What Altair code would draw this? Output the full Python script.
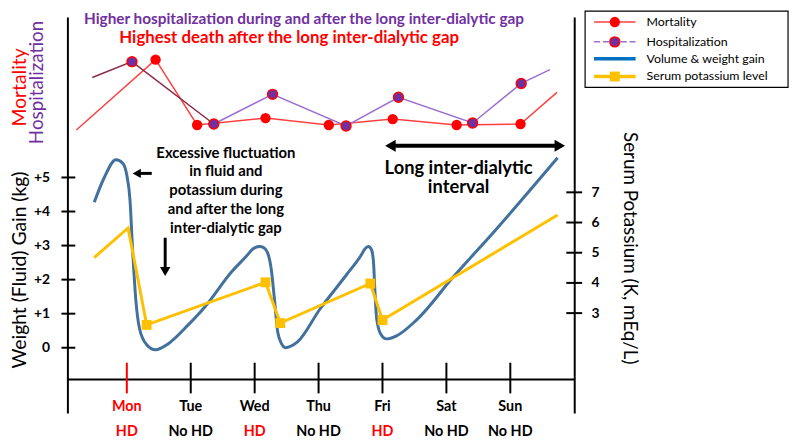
import altair as alt
import pandas as pd

# ---------------- data ----------------
day_index = [1, 2, 3, 4, 5, 6, 7]
day_names = ["Mon", "Tue", "Wed", "Thu", "Fri", "Sat", "Sun"]
dialysis = ["HD", "No HD", "HD", "No HD", "HD", "No HD", "No HD"]

# volume & weight gain curve (day, kg)
weight_day = [0.49, 0.64, 0.83, 0.94, 1.00, 1.05, 1.09, 1.14, 1.20, 1.31,
              1.45, 1.65, 1.96, 2.23, 2.63, 2.89, 2.97, 3.08, 3.14, 3.20,
              3.26, 3.31, 3.36, 3.42, 3.48, 3.67, 4.02, 4.44, 4.67, 4.72,
              4.78, 4.83, 4.86, 4.88, 4.91, 4.97, 5.06, 5.22, 5.53, 6.10,
              6.77, 7.74]
weight_kg = [4.27, 4.97, 5.52, 5.41, 5.06, 4.33, 2.88, 1.42, 0.55, 0.09,
             -0.06, 0.12, 0.67, 1.22, 2.21, 2.73, 2.90, 2.97, 2.94, 2.80,
             2.30, 1.42, 0.47, 0.12, 0.00, 0.17, 1.13, 2.15, 2.73, 2.89,
             2.97, 2.87, 2.50, 1.72, 0.84, 0.41, 0.26, 0.35, 0.81, 2.06,
             3.46, 5.58]

# serum potassium (day, mEq/L)
k_day = [0.49, 1.02, 1.31, 3.17, 3.40, 4.81, 5.00, 7.74]
k_level = [4.84, 5.82, 2.61, 4.02, 2.67, 3.98, 2.77, 6.25]
k_marker = [False, False, True, True, True, True, True, False]

# mortality / hospitalization (relative index, no axis)
mort_day = [0.21, 1.45, 2.10, 3.17, 4.16, 5.16, 6.16, 7.16, 7.73]
mort_index = [0.6, 7.7, 1.1, 1.8, 1.1, 1.7, 1.1, 1.2, 4.4]
hosp_day = [0.46, 1.08, 2.36, 3.28, 4.43, 5.25, 6.41, 7.17, 7.62]
hosp_index = [5.9, 7.5, 1.2, 4.2, 1.0, 3.9, 1.3, 5.3, 6.7]

kg_ticks = [0, 1, 2, 3, 4, 5]
k_ticks = [3, 4, 5, 6, 7]

note_fluct = ["Excessive fluctuation", "in fluid and", "potassium during",
              "and after the long", "inter-dialytic gap"]
note_long = ["Long inter-dialytic", "interval"]
title_hosp = "Higher hospitalization during and after the long inter-dialytic gap"
title_death = "Highest death after the long inter-dialytic gap"
legend_labels = ["Mortality", "Hospitalization", "Volume & weight gain",
                 "Serum potassium  level"]

# ---------------- tables ----------------
weight_df = pd.DataFrame({"day": weight_day, "kg": weight_kg})
k_df = pd.DataFrame({"day": k_day, "k": k_level, "marker": k_marker})
mort_df = pd.DataFrame({"day": mort_day, "idx": mort_index})
hosp_df = pd.DataFrame({"day": hosp_day, "idx": hosp_index})
days_df = pd.DataFrame({"day": day_index, "name": day_names, "hd": dialysis})
kg_tick_df = pd.DataFrame({"kg": kg_ticks})
k_tick_df = pd.DataFrame({"k": k_ticks})
one = pd.DataFrame({"_": [0]})

FONT = "Lato"
W, H = 512, 400
RED = "#FF0000"
PURPLE = "#7030A0"
LAVENDER = "#9B6FD0"
BLUE = "#41719C"
GOLD = "#FFC000"

xs = alt.Scale(domain=[0.07, 8.0], nice=False, zero=False)
kg_s = alt.Scale(domain=[-1.919, 9.709], nice=False, zero=False)
k_s = alt.Scale(domain=[-0.311, 12.803], nice=False, zero=False)
ix_s = alt.Scale(domain=[-28, 12], nice=False, zero=False)

left_axis = alt.Axis(
    orient="left", values=kg_ticks, ticks=False, grid=False,
    domainColor="black", domainWidth=2,
    labelFont=FONT, labelFontSize=14, labelFontWeight="bold", labelColor="black",
    labelPadding=18, labelExpr="datum.value > 0 ? '+' + datum.label : datum.label",
    title="Weight (Fluid) Gain (kg)", titleFont=FONT, titleFontSize=19.5,
    titleFontWeight="normal", titleColor="black", titleAngle=270,
    titleX=-48, titleY=255, titleAlign="center", titleBaseline="middle")

right_axis = alt.Axis(
    orient="right", values=k_ticks, ticks=False, grid=False,
    domainColor="black", domainWidth=2,
    labelFont=FONT, labelFontSize=14, labelFontWeight="bold", labelColor="black",
    labelPadding=17,
    title="Serum Potassium (K, mEq/L)", titleFont=FONT, titleFontSize=19,
    titleFontWeight="normal", titleColor="black", titleAngle=90,
    titleX=56, titleY=233, titleAlign="center", titleBaseline="middle")


def X(field):
    return alt.X(field, type="quantitative", scale=xs, axis=None)


def Xd(v):
    return alt.X(datum=v, type="quantitative", scale=xs, axis=None)


def KG(field):
    return alt.Y(field, type="quantitative", scale=kg_s, axis=left_axis)


def KGd(v):
    return alt.Y(datum=v, type="quantitative", scale=kg_s, axis=left_axis)


def KK(field):
    return alt.Y(field, type="quantitative", scale=k_s, axis=right_axis)


def IX(field):
    return alt.Y(field, type="quantitative", scale=ix_s, axis=None)


# ---------------- kg group ----------------
blue = alt.Chart(weight_df).mark_line(
    interpolate="monotone", color=BLUE, strokeWidth=3
).encode(x=X("day"), y=KG("kg"))

left_ticks = alt.Chart(kg_tick_df).mark_rule(color="black", strokeWidth=2).encode(
    y=KG("kg"), x=alt.value(-6), x2=alt.value(8))

base_line = alt.Chart(one).mark_rule(color="black", strokeWidth=2).encode(y=KGd(-0.93))

mon_red = alt.condition("datum.name == 'Mon'", alt.value(RED), alt.value("black"))
hd_red = alt.condition("datum.hd == 'HD'", alt.value(RED), alt.value("black"))

day_ticks = alt.Chart(days_df).mark_rule(strokeWidth=2).encode(
    x=X("day"), y=KGd(-0.44), y2=alt.Y2(datum=-1.34), color=mon_red)

day_text = alt.Chart(days_df).mark_text(
    font=FONT, fontSize=14.5, fontWeight="bold", baseline="middle"
).encode(x=X("day"), y=KGd(-1.74), text="name:N", color=mon_red)

hd_text = alt.Chart(days_df).mark_text(
    font=FONT, fontSize=14.5, fontWeight="bold", baseline="middle"
).encode(x=X("day"), y=KGd(-2.47), text="hd:N", color=hd_red)

# first line of each note is placed at the given point
fluct_text = alt.Chart(one).mark_text(
    text=note_fluct, font=FONT, fontSize=15, fontWeight="bold", lineHeight=19,
    align="center", baseline="middle", color="black"
).encode(x=Xd(2.55), y=KGd(5.73))

long_text = alt.Chart(one).mark_text(
    text=note_long, font=FONT, fontSize=18.5, fontWeight="bold", lineHeight=20,
    align="center", baseline="middle", color="black"
).encode(x=Xd(6.19), y=KGd(5.29))

# arrows
arr1_line = alt.Chart(one).mark_rule(color="black", strokeWidth=3).encode(
    x=Xd(1.17), x2=alt.X2(datum=1.39), y=KGd(5.12))
arr1_head = alt.Chart(one).mark_point(
    shape="triangle-left", filled=True, color="black", size=90, opacity=1
).encode(x=Xd(1.155), y=KGd(5.12))

arr2_line = alt.Chart(one).mark_rule(color="black", strokeWidth=3).encode(
    x=Xd(1.6), y=KGd(3.23), y2=alt.Y2(datum=2.3))
arr2_head = alt.Chart(one).mark_point(
    shape="triangle-down", filled=True, color="black", size=110, opacity=1
).encode(x=Xd(1.6), y=KGd(2.24))

arr3_line = alt.Chart(one).mark_rule(color="black", strokeWidth=4).encode(
    x=Xd(5.13), x2=alt.X2(datum=7.77), y=KGd(5.93))
arr3_left = alt.Chart(one).mark_point(
    shape="triangle-left", filled=True, color="black", size=150, opacity=1
).encode(x=Xd(5.124), y=KGd(5.93))
arr3_right = alt.Chart(one).mark_point(
    shape="triangle-right", filled=True, color="black", size=150, opacity=1
).encode(x=Xd(7.775), y=KGd(5.93))

kg_group = alt.layer(
    blue, base_line, day_ticks, day_text, hd_text, left_ticks,
    fluct_text, long_text, arr1_line, arr1_head, arr2_line, arr2_head,
    arr3_line, arr3_left, arr3_right)

# ---------------- potassium group ----------------
gold = alt.Chart(k_df).mark_line(color=GOLD, strokeWidth=3).encode(
    x=X("day"), y=KK("k"))
gold_sq = alt.Chart(k_df).transform_filter("datum.marker").mark_square(
    color=GOLD, size=100, opacity=1
).encode(x=X("day"), y=KK("k"))
right_ticks = alt.Chart(k_tick_df).mark_rule(color="black", strokeWidth=2).encode(
    y=KK("k"), x=alt.value(W - 8), x2=alt.value(W + 8))
k_group = alt.layer(gold, gold_sq, right_ticks)

# ---------------- mortality / hospitalization group ----------------
mort_line = alt.Chart(mort_df).mark_line(color="#FF4040", strokeWidth=1.5).encode(
    x=X("day"), y=IX("idx"))
hosp_line_a = alt.Chart(hosp_df.iloc[:3]).mark_line(color="#8B2A4A", strokeWidth=1.5).encode(
    x=X("day"), y=IX("idx"))
hosp_line_b = alt.Chart(hosp_df.iloc[2:]).mark_line(color=LAVENDER, strokeWidth=1.5).encode(
    x=X("day"), y=IX("idx"))
mort_dots = alt.Chart(mort_df.iloc[1:-1]).mark_circle(color=RED, size=110, opacity=1).encode(
    x=X("day"), y=IX("idx"))
hosp_dots = alt.Chart(hosp_df.iloc[1:-1]).mark_point(
    shape="circle", filled=True, fill=PURPLE, stroke=RED, strokeWidth=1.5, size=100, opacity=1
).encode(x=X("day"), y=IX("idx"))
ix_group = alt.layer(mort_line, hosp_line_a, hosp_line_b, mort_dots, hosp_dots)

# ---------------- titles & side labels ----------------
t_hosp = alt.Chart(one).mark_text(
    text=title_hosp, font=FONT, fontSize=15.5, fontWeight="bold", color=PURPLE,
    align="center", baseline="middle").encode(x=alt.value(239), y=alt.value(2))
t_death = alt.Chart(one).mark_text(
    text=title_death, font=FONT, fontSize=17, fontWeight="bold", color=RED,
    align="center", baseline="middle").encode(x=alt.value(224), y=alt.value(21))
lab_mort = alt.Chart(one).mark_text(
    text="Mortality", font=FONT, fontSize=19.5, color=RED, angle=270,
    align="center", baseline="middle").encode(x=alt.value(-48), y=alt.value(71))
lab_hosp = alt.Chart(one).mark_text(
    text="Hospitalization", font=FONT, fontSize=19, color=PURPLE, angle=270,
    align="center", baseline="middle").encode(x=alt.value(-31), y=alt.value(66))

# ---------------- legend ----------------
LX0, LX1, LSYM, LTXT = 532, 574, 553, 585
rows = [5, 25, 42, 60]
leg_box = alt.Chart(one).mark_rect(fill="white", stroke="black", strokeWidth=1.2).encode(
    x=alt.value(523), x2=alt.value(728), y=alt.value(-6), y2=alt.value(71))
leg = [leg_box]
leg.append(alt.Chart(one).mark_rule(color="#FF4040", strokeWidth=1.5).encode(
    x=alt.value(LX0), x2=alt.value(LX1), y=alt.value(rows[0])))
leg.append(alt.Chart(one).mark_circle(color=RED, size=110, opacity=1).encode(
    x=alt.value(LSYM), y=alt.value(rows[0])))
leg.append(alt.Chart(one).mark_rule(color=LAVENDER, strokeWidth=1.5, strokeDash=[6, 3]).encode(
    x=alt.value(LX0), x2=alt.value(LX1), y=alt.value(rows[1])))
leg.append(alt.Chart(one).mark_point(
    shape="circle", filled=True, fill=PURPLE, stroke=RED, strokeWidth=1.5, size=100, opacity=1
).encode(x=alt.value(LSYM), y=alt.value(rows[1])))
leg.append(alt.Chart(one).mark_rule(color="#0070C0", strokeWidth=3.5).encode(
    x=alt.value(LX0), x2=alt.value(LX1), y=alt.value(rows[2])))
leg.append(alt.Chart(one).mark_rule(color=GOLD, strokeWidth=3.5).encode(
    x=alt.value(LX0), x2=alt.value(LX1), y=alt.value(rows[3])))
leg.append(alt.Chart(one).mark_square(color=GOLD, size=100, opacity=1).encode(
    x=alt.value(LSYM), y=alt.value(rows[3])))
for lbl, ry in zip(legend_labels, rows):
    leg.append(alt.Chart(one).mark_text(
        text=lbl, font=FONT, fontSize=12.5, color="black", align="left", baseline="middle"
    ).encode(x=alt.value(LTXT), y=alt.value(ry)))

chart = alt.layer(
    kg_group, k_group, ix_group, t_hosp, t_death, lab_mort, lab_hosp, *leg
).resolve_scale(y="independent").properties(
    width=W, height=H,
    padding={"left": 60, "top": 7, "right": 220, "bottom": 26},
    autosize=alt.AutoSizeParams(type="none"),
).configure(font=FONT).configure_view(stroke=None)

chart.save("out.html", embed_options={"renderer": "svg", "actions": False})
